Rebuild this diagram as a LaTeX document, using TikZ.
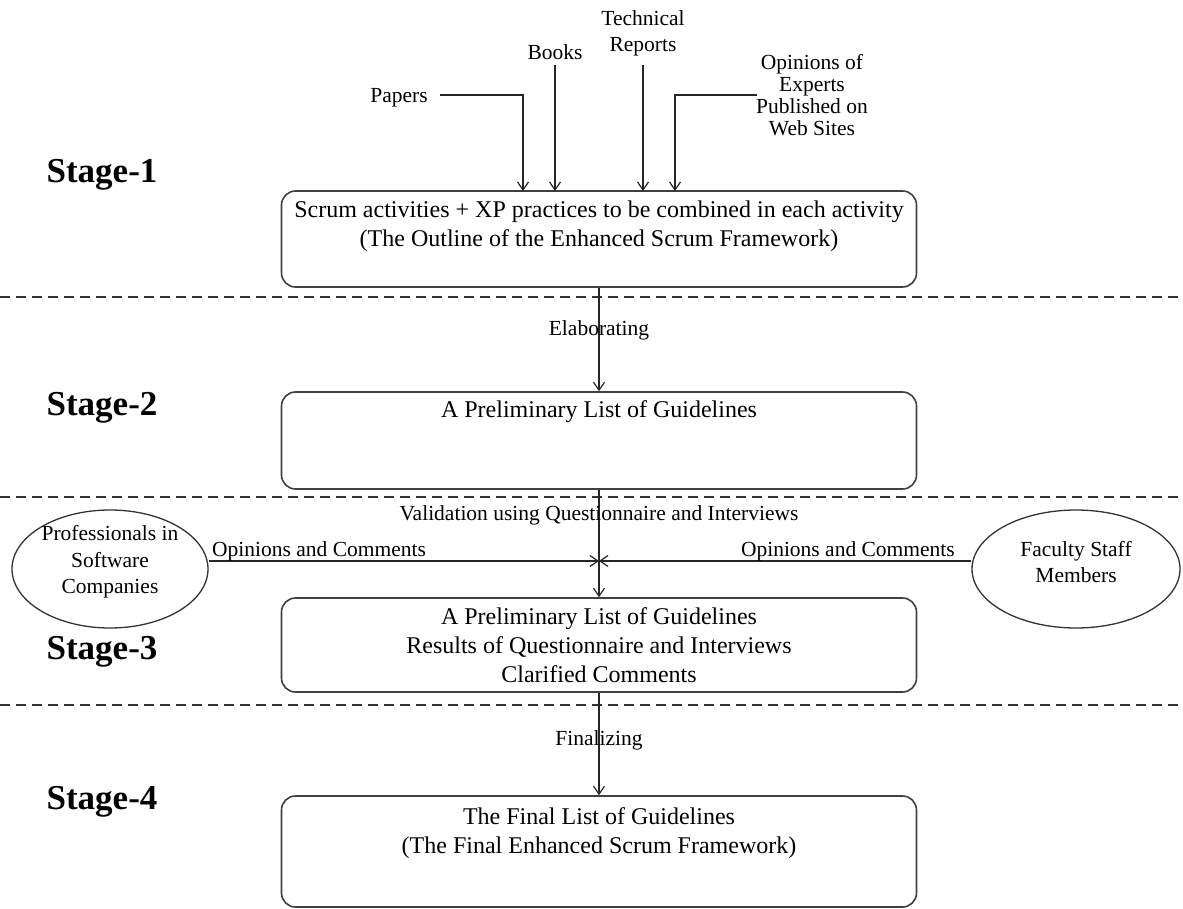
\documentclass[tikz,border=0pt]{standalone}
\usepackage{fontspec}
\setmainfont{Liberation Serif}
\usetikzlibrary{arrows.meta,calc,shapes.geometric}
\begin{document}
\begin{tikzpicture}[x=1pt,y=-1pt,
  box/.style={draw=black!75,line width=1.6pt,rounded corners=14pt,inner sep=0pt,minimum width=635pt},
  boxtext/.style={font=\fontsize{24}{29}\selectfont,align=center,inner sep=0pt},
  lbl/.style={font=\fontsize{21.5}{21.5}\selectfont,align=center,inner sep=0pt},
  stagelbl/.style={font=\fontsize{35}{38}\selectfont\bfseries,inner sep=0pt},
  conn/.style={draw=black!85,line width=1.3pt},
  arr/.style={conn,-{Straight Barb[length=8pt,width=11pt,line width=1.2pt]}},
  sepline/.style={draw=black!80,line width=1.3pt,dash pattern=on 10pt off 6pt},
  oval/.style={draw=black!80,line width=1.3pt,ellipse,inner sep=0pt}]
\useasboundingbox (0,0) rectangle (1183,909);

% separators
\coordinate (s1l) at (0,297); \coordinate (s1r) at (1183,297);
\coordinate (s2l) at (0,497); \coordinate (s2r) at (1183,497);
\coordinate (s3l) at (0,705); \coordinate (s3r) at (1183,705);
\draw[sepline] (s1l) -- (s1r);
\draw[sepline] (s2l) -- (s2r);
\draw[sepline] (s3l) -- (s3r);

% stage labels
\node[stagelbl] (st1) at (102,175) {Stage-1};
\node[stagelbl] (st2) at (102,408) {Stage-2};
\node[stagelbl] (st3) at (102,652) {Stage-3};
\node[stagelbl] (st4) at (102,802) {Stage-4};

% boxes
\node[box,minimum height=96pt] (b1) at (599,239) {};
\node[box,minimum height=97pt] (b2) at (599,440.5) {};
\node[box,minimum height=94pt] (b3) at (599,645) {};
\node[box,minimum height=111pt] (b4) at (599,851.5) {};

\node[boxtext] (t1) at (599,226) {Scrum activities + XP practices to be combined in each activity\\(The Outline of the Enhanced Scrum Framework)};
\node[boxtext] (t2) at (599,412) {A Preliminary List of Guidelines};
\node[boxtext] (t3) at (599,645) {A Preliminary List of Guidelines\\Results of Questionnaire and Interviews\\Clarified Comments};
\node[boxtext] (t4) at (599,833) {The Final List of Guidelines\\(The Final Enhanced Scrum Framework)};

% top sources
\node[lbl] (papers) at (399,98) {Papers};
\node[lbl] (books) at (555,52) {Books};
\node[lbl,font=\fontsize{21.5}{26}\selectfont] (tech) at (643,33) {Technical\\Reports};
\node[lbl,font=\fontsize{21.5}{22}\selectfont] (opin) at (812,95) {Opinions of\\Experts\\Published on\\Web Sites};

\coordinate (pin) at (523,191);
\coordinate (bin) at (555,191);
\coordinate (tin) at (643,191);
\coordinate (oin) at (675,191);
\coordinate (pst) at (440,95);
\coordinate (bst) at (555,65);
\coordinate (tst) at (643,65);
\coordinate (ost) at (757,95);
\draw[arr] (pst) -| (pin);
\draw[arr] (bst) -- (bin);
\draw[arr] (tst) -- (tin);
\draw[arr] (ost) -| (oin);

% main flow
\draw[arr] (b1.south) -- (b2.north);
\draw[arr] (b2.south) -- (b3.north);
\draw[arr] (b3.south) -- (b4.north);
\node[lbl] (elab) at (599,330) {Elaborating};
\node[lbl] (valid) at (599,515) {Validation using Questionnaire and Interviews};
\node[lbl] (final) at (599,740) {Finalizing};

% ellipses
\node[oval,minimum width=196pt,minimum height=118pt] (L) at (110,569) {};
\node[oval,minimum width=208pt,minimum height=118pt] (R) at (1076,569) {};
\node[lbl,font=\fontsize{21.5}{26.5}\selectfont] (Lt) at (110,562) {Professionals in\\Software\\Companies};
\node[lbl,font=\fontsize{21.5}{26.5}\selectfont] (Rt) at (1076,562) {Faculty Staff\\Members};

\coordinate (mj) at (599,561);
\draw[arr] (L.east |- mj) -- (mj);
\draw[arr] (R.west |- mj) -- (mj);
\node[lbl,anchor=base west] (oc1) at (212,556) {Opinions and Comments};
\node[lbl,anchor=base east] (oc2) at (955,556) {Opinions and Comments};
\end{tikzpicture}
\end{document}
